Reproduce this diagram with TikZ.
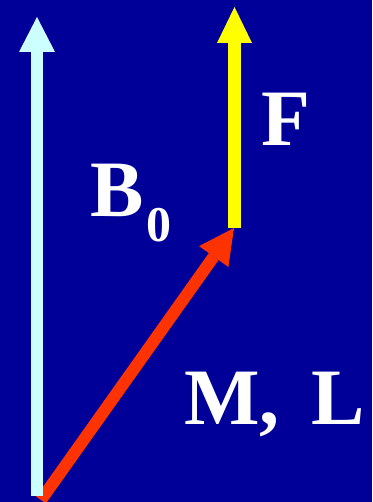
\documentclass[tikz,border=0pt]{standalone}
\usepackage{fontspec}
\setmainfont{Liberation Serif}
\usetikzlibrary{calc}
\definecolor{bgblue}{RGB}{0,0,153}
\definecolor{bcyan}{RGB}{204,255,255}
\definecolor{mred}{RGB}{255,51,0}
\definecolor{fyellow}{RGB}{255,255,0}
\tikzset{
  lbl/.style={text=white, font=\bfseries\fontsize{80}{90}\selectfont, inner sep=0pt, anchor=base west},
  sublbl/.style={text=white, font=\bfseries\fontsize{50}{60}\selectfont, inner sep=0pt, anchor=base west},
  shaft/.style={line cap=butt}
}
\begin{document}
\begin{tikzpicture}[x=1pt,y=-1pt]
\fill[bgblue] (0,0) rectangle (372,502);
\useasboundingbox (0,0) rectangle (372,502);
% red arrow (M, L)
\coordinate (rs) at (41,500);
\coordinate (rt) at (234,228);
\coordinate (rb) at ($(rs)!0.895!(rt)$);
\draw[mred, line width=12pt, shaft] (rs) -- (rb);
\fill[mred] (rt) -- ($(rb)!18pt!90:(rt)$) -- ($(rb)!18pt!-90:(rt)$) -- cycle;
% cyan arrow (B0)
\coordinate (bs) at (37,496);
\coordinate (bb) at (37,52);
\coordinate (bt) at (37,17);
\draw[bcyan, line width=12pt, shaft] (bs) -- (bb);
\fill[bcyan] (bt) -- (19,52) -- (55,52) -- cycle;
% yellow arrow (F)
\coordinate (fs) at (234.5,228);
\coordinate (fb) at (234.5,43);
\coordinate (ft) at (234.5,7);
\draw[fyellow, line width=13pt, shaft] (fs) -- (fb);
\fill[fyellow] (ft) -- (217,43) -- (252,43) -- cycle;
% labels
\node[lbl] (B) at (90,217) {B};
\node[sublbl] (Bsub) at (146,241) {0};
\node[lbl] (F) at (261,146) {F};
\node[lbl] (ML) at (184,424) {M,\hspace{32pt}L};
\end{tikzpicture}
\end{document}
